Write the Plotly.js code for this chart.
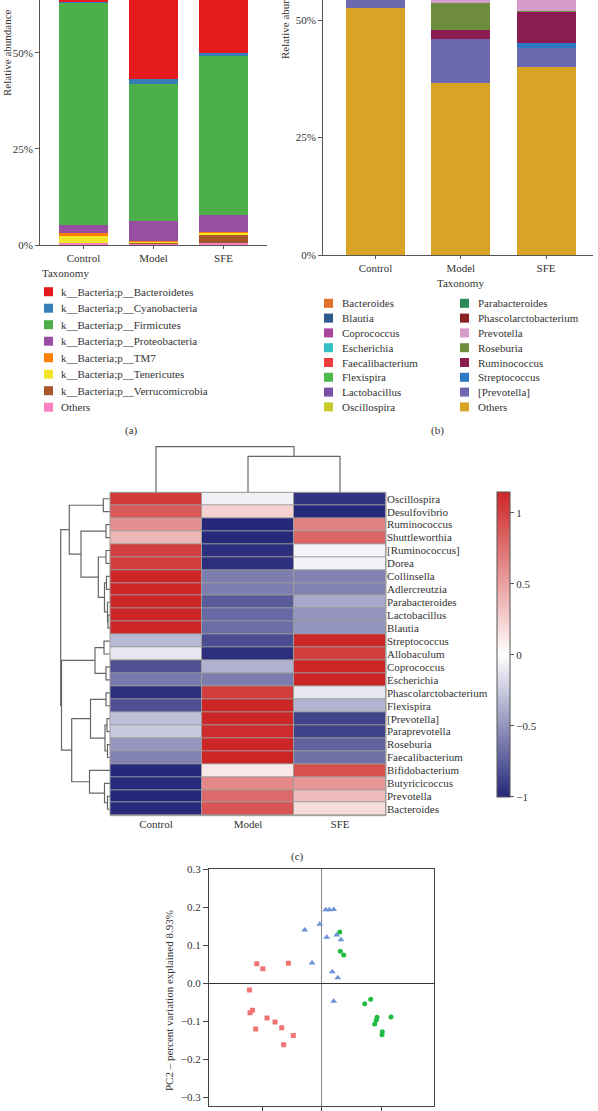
<!DOCTYPE html>
<html>
<head>
<meta charset="utf-8">
<script src="https://cdn.plot.ly/plotly-3.0.1.min.js"></script>
<style>html,body{margin:0;padding:0;background:#fff;}#chart{width:598px;height:1111px;}</style>
</head>
<body>
<div id="chart"></div>
<script>
// ---------------- DATA ----------------
const groups = ['Control', 'Model', 'SFE'];

// (a) phylum level, legend order
const phylaNames = ['k__Bacteria;p__Bacteroidetes','k__Bacteria;p__Cyanobacteria','k__Bacteria;p__Firmicutes',
  'k__Bacteria;p__Proteobacteria','k__Bacteria;p__TM7','k__Bacteria;p__Tenericutes','k__Bacteria;p__Verrucomicrobia','Others'];
const phylaColors = ['#e41a1c','#377eb8','#4daf4a','#984ea3','#ff7f00','#f2e52a','#a65628','#f781bf'];
const phylaValues = [
  [36.8, 55.0, 48.0],   // Bacteroidetes
  [0.2, 1.3, 0.7],      // Cyanobacteria
  [57.9, 35.7, 41.3],   // Firmicutes
  [1.9, 5.2, 4.5],      // Proteobacteria
  [0.9, 0.2, 0.3],      // TM7
  [1.7, 0.4, 0.45],     // Tenericutes
  [0.1, 0.1, 2.0],      // Verrucomicrobia
  [0.5, 0.3, 0.6]       // Others
];
const pctTicks = [0, 25, 50];
const pctLabels = ['0%', '25%', '50%'];

// (b) genus level, legend order
const genusNames = ['Bacteroides','Blautia','Coprococcus','Escherichia','Faecalibacterium','Flexispira','Lactobacillus','Oscillospira',
  'Parabacteroides','Phascolarctobacterium','Prevotella','Roseburia','Ruminococcus','Streptococcus','[Prevotella]','Others'];
const genusColors = ['#e0702a','#2d5b8c','#a8449c','#35c0c8','#f03c3c','#4cbb4c','#7b4fa8','#c8cc2a',
  '#2a8a5a','#8b2222','#d59bc9','#6d8c3c','#8a1c50','#2c78c4','#6d69b0','#d9a426'];
const genusValues = [
  [20.3, 29.3, 30.1],  // Bacteroides
  [3.0, 1.5, 1.5],     // Blautia
  [0.5, 1.0, 2.0],     // Coprococcus
  [0.2, 0.5, 1.5],     // Escherichia
  [0.5, 2.0, 1.0],     // Faecalibacterium
  [0.2, 1.5, 0.5],     // Flexispira
  [8.0, 3.0, 4.0],     // Lactobacillus
  [2.0, 1.0, 0.5],     // Oscillospira
  [1.0, 1.0, 1.0],     // Parabacteroides
  [1.5, 3.0, 2.0],     // Phascolarctobacterium
  [3.0, 2.5, 4.0],     // Prevotella
  [0.5, 5.7, 0.1],     // Roseburia
  [1.5, 2.0, 6.6],     // Ruminococcus
  [0.3, 0.1, 1.1],     // Streptococcus
  [4.5, 9.2, 4.0],     // [Prevotella]
  [52.5, 36.7, 40.1]   // Others
];

// (c) heatmap, rows top to bottom
const heatRows = ['Oscillospira','Desulfovibrio','Ruminococcus','Shuttleworthia','[Ruminococcus]','Dorea','Collinsella',
  'Adlercreutzia','Parabacteroides','Lactobacillus','Blautia','Streptococcus','Allobaculum','Coprococcus','Escherichia',
  'Phascolarctobacterium','Flexispira','[Prevotella]','Paraprevotella','Roseburia','Faecalibacterium','Bifidobacterium',
  'Butyricicoccus','Prevotella','Bacteroides'];
const heatZ = [
  [1.04, -0.07, -0.95],
  [0.885, 0.25, -1.0],
  [0.59, -1.0, 0.67],
  [0.38, -1.0, 0.81],
  [1.03, -0.97, -0.05],
  [1.03, -0.97, -0.05],
  [1.15, -0.6, -0.58],
  [1.15, -0.6, -0.58],
  [1.15, -0.76, -0.4],
  [1.15, -0.7, -0.5],
  [1.15, -0.68, -0.5],
  [-0.33, -0.83, 1.15],
  [-0.11, -0.97, 1.03],
  [-0.81, -0.36, 1.15],
  [-0.62, -0.6, 1.15],
  [-0.97, 1.03, -0.11],
  [-0.82, 1.15, -0.35],
  [-0.29, 1.15, -0.88],
  [-0.25, 1.12, -0.88],
  [-0.49, 1.15, -0.73],
  [-0.58, 1.15, -0.66],
  [-1.0, 0.12, 0.93],
  [-1.0, 0.63, 0.56],
  [-1.0, 0.79, 0.355],
  [-1.0, 0.906, 0.185]
];
const colorTicks = [-1, -0.5, 0, 0.5, 1];
// row dendrogram merges: [childA, childB, height]; leaves 0..24, new clusters numbered 25..
const rowMerges = [
  [0, 1, 6.7], [2, 3, 4], [4, 5, 4], [6, 7, 3.5], [9, 10, 2], [8, 29, 2.5], [28, 30, 5.5],
  [27, 31, 11.7], [26, 32, 29], [25, 33, 40.7],
  [11, 12, 6], [13, 14, 4], [35, 36, 15],
  [15, 16, 4], [17, 18, 3], [19, 20, 2.5], [39, 40, 5], [38, 41, 19.5],
  [23, 24, 2.5], [22, 43, 5.5], [21, 44, 20.5], [42, 45, 38.3],
  [37, 46, 48.5], [34, 47, 49.3]
];
// column dendrogram merges: leaves 0..2 (Control, Model, SFE)
const colMerges = [[1, 2, 36], [0, 3, 45.6]];

// (d) PCoA points
const ctrlPC1 = [-0.2185,-0.198,-0.112,-0.243,-0.241,-0.233,-0.222,-0.184,-0.157,-0.1345,-0.128,-0.0955];
const ctrlPC2 = [0.0517,0.0385,0.0528,-0.0177,-0.0776,-0.0713,-0.1206,-0.0916,-0.1021,-0.117,-0.162,-0.138];
const modelPC1 = [0.0134,0.0255,0.0403,-0.0067,-0.057,0.0168,0.0504,0.0649,-0.0326,0.0356,0.0538,0.0403];
const modelPC2 = [0.194,0.194,0.195,0.1557,0.1406,0.1214,0.1274,0.115,0.0536,0.0306,0.0148,-0.0475];
const sfePC1 = [0.0605,0.0625,0.074,0.1445,0.1647,0.1859,0.1835,0.178,0.2329,0.2037,0.2027];
const sfePC2 = [0.1354,0.0844,0.0747,-0.0538,-0.0422,-0.0897,-0.0976,-0.1074,-0.0889,-0.1277,-0.1356];
const pcaYTicks = [-0.3,-0.2,-0.1,0,0.1,0.2,0.3];
const pcaXTicks = [-0.2,0,0.2];

// ---------------- BUILD ----------------
const W = 598, H = 1111;
const fx = p => p / W;
const fy = p => 1 - p / H;
const FONT = '"Liberation Serif", "Times New Roman", serif';
const TXT = '#333';

const traces = [];
for (let i = phylaNames.length - 1; i >= 0; i--) {
  traces.push({type:'bar', x:groups, y:phylaValues[i], name:phylaNames[i], marker:{color:phylaColors[i], line:{width:0}},
    width:0.7, xaxis:'x', yaxis:'y', showlegend:false, hoverinfo:'name+y'});
}
for (let i = genusNames.length - 1; i >= 0; i--) {
  traces.push({type:'bar', x:groups, y:genusValues[i], name:genusNames[i], marker:{color:genusColors[i], line:{width:0}},
    width:0.69, xaxis:'x2', yaxis:'y2', showlegend:false, hoverinfo:'name+y'});
}
traces.push({type:'heatmap', x:groups, y:heatRows, z:heatZ, xaxis:'x3', yaxis:'y3', xgap:1, ygap:1,
  zmin:-1.0, zmax:1.15,
  colorscale:[[0,'#26287a'],[1.0/2.15,'#ffffff'],[1,'#cd2626']],
  colorbar:{x:fx(496.7), xanchor:'left', y:fy(491.7), yanchor:'top', lenmode:'pixels', len:305, thickness:13,
    thicknessmode:'pixels', xpad:0, ypad:0, outlinewidth:1, outlinecolor:'#555', ticks:'outside', ticklen:4,
    tickcolor:'#555', tickmode:'array', tickvals:colorTicks, tickfont:{family:FONT, size:11, color:TXT}}
});
function dendro(merges, n) {
  const pos = [], ht = [];
  for (let i = 0; i < n; i++) { pos[i] = i; ht[i] = 0; }
  const hs = [], ps = [];
  merges.forEach((m, k) => {
    const a = m[0], b = m[1], h = m[2], id = n + k;
    pos[id] = (pos[a] + pos[b]) / 2; ht[id] = h;
    hs.push(ht[a], h, h, ht[b], null);
    ps.push(pos[a], pos[a], pos[b], pos[b], null);
  });
  return {hs, ps};
}
const rd = dendro(rowMerges, heatRows.length);
traces.push({type:'scatter', mode:'lines', x:rd.hs, y:rd.ps, xaxis:'x4', yaxis:'y4', line:{color:'#666', width:1.2},
  hoverinfo:'skip', showlegend:false, cliponaxis:false});
const cd = dendro(colMerges, groups.length);
traces.push({type:'scatter', mode:'lines', x:cd.ps, y:cd.hs, xaxis:'x5', yaxis:'y5', line:{color:'#666', width:1.2},
  hoverinfo:'skip', showlegend:false, cliponaxis:false});
traces.push({type:'scatter', mode:'markers', x:ctrlPC1, y:ctrlPC2, name:'Control', xaxis:'x6', yaxis:'y6',
  marker:{symbol:'square', size:5, color:'#f07474'}, showlegend:false});
traces.push({type:'scatter', mode:'markers', x:modelPC1, y:modelPC2, name:'Model', xaxis:'x6', yaxis:'y6',
  marker:{symbol:'triangle-up', size:6, color:'#6b92d8'}, showlegend:false});
traces.push({type:'scatter', mode:'markers', x:sfePC1, y:sfePC2, name:'SFE', xaxis:'x6', yaxis:'y6',
  marker:{symbol:'circle', size:5, color:'#22bb44'}, showlegend:false});

const axBase = {showgrid:false, zeroline:false, tickfont:{family:FONT, size:11, color:TXT}, fixedrange:true};
const hidden = {visible:false, showgrid:false, zeroline:false, fixedrange:true};

const annotations = [];
const shapes = [];
function addText(text, x, y, opts) {
  annotations.push(Object.assign({text, x:fx(x), y:fy(y), xref:'paper', yref:'paper', showarrow:false,
    font:{family:FONT, size:11, color:TXT}, xanchor:'center', yanchor:'middle'}, opts || {}));
}
function addSwatch(x, y, w, h, color) {
  shapes.push({type:'rect', xref:'paper', yref:'paper', x0:fx(x), x1:fx(x + w), y0:fy(y + h / 2), y1:fy(y - h / 2),
    fillcolor:color, line:{width:0}});
}
addText('Relative abundance', 7, 53, {textangle:-90});
addText('Relative abundance', 285, 16, {textangle:-90});
addText('Taxonomy', 460, 283);
addText('Taxonomy', 40, 273, {xanchor:'left'});
phylaNames.forEach((n, i) => {
  const y = 291.7 + i * 16.5;
  addSwatch(44, y, 9, 9, phylaColors[i]);
  addText(n, 59, y, {xanchor:'left'});
});
genusNames.forEach((n, i) => {
  const col = i < 8 ? 0 : 1, row = i % 8;
  const y = 303.3 + row * 14.8;
  const sx = col === 0 ? 324 : 460;
  addSwatch(sx, y, 9, 9, genusColors[i]);
  addText(n, sx + 15.5, y, {xanchor:'left'});
});
addText('(a)', 131, 431);
addText('(b)', 437.5, 431);
addText('(c)', 297, 856);
addText('PC2 – percent variation explained 8.93%', 169, 1001, {textangle:-90});

shapes.push({type:'rect', xref:'x3 domain', yref:'y3 domain', x0:0, x1:1, y0:0, y1:1, fillcolor:'#9c9c9c',
  line:{width:0}, layer:'below'});
shapes.push({type:'rect', xref:'x3 domain', yref:'y3 domain', x0:0, x1:1, y0:0, y1:1, fillcolor:'rgba(0,0,0,0)',
  line:{width:1, color:'#9c9c9c'}});

const layout = {
  width:W, height:H, margin:{l:0, r:0, t:0, b:0}, paper_bgcolor:'#fff', plot_bgcolor:'rgba(0,0,0,0)',
  showlegend:false, barmode:'stack', font:{family:FONT, size:11, color:TXT},
  xaxis: Object.assign({}, axBase, {domain:[fx(40), fx(267)], range:[-0.62, 2.62], type:'category', anchor:'y',
    showline:true, linecolor:'#555', linewidth:1, ticks:'outside', ticklen:3, tickcolor:'#555'}),
  yaxis: Object.assign({}, axBase, {domain:[fy(245), 1], range:[0, 63.7], anchor:'x', tickmode:'array',
    tickvals:pctTicks, ticktext:pctLabels,
    showline:true, linecolor:'#555', linewidth:1, ticks:'outside', ticklen:4, tickcolor:'#555'}),
  xaxis2: Object.assign({}, axBase, {domain:[fx(323), fx(593)], range:[-0.615, 2.55], type:'category', anchor:'y2',
    showline:true, linecolor:'#555', linewidth:1, ticks:'outside', ticklen:3, tickcolor:'#555'}),
  yaxis2: Object.assign({}, axBase, {domain:[fy(255), 1], range:[0, 54.3], anchor:'x2', tickmode:'array',
    tickvals:pctTicks, ticktext:pctLabels,
    showline:true, linecolor:'#555', linewidth:1, ticks:'outside', ticklen:4, tickcolor:'#555'}),
  xaxis3: Object.assign({}, axBase, {domain:[fx(110), fx(386)], anchor:'y3', type:'category', ticks:'', showline:false}),
  yaxis3: Object.assign({}, axBase, {domain:[fy(815.7), fy(492.3)], anchor:'x3', type:'category', side:'right',
    autorange:'reversed', ticks:'', showline:false, tickmode:'array', tickvals:heatRows, ticktext:heatRows}),
  xaxis4: Object.assign({}, hidden, {domain:[fx(55), fx(110)], range:[55, 0], anchor:'y4'}),
  yaxis4: Object.assign({}, hidden, {domain:[fy(815.7), fy(492.3)], range:[24.5, -0.5], anchor:'x4'}),
  xaxis5: Object.assign({}, hidden, {domain:[fx(110), fx(386)], range:[-0.5, 2.5], anchor:'y5'}),
  yaxis5: Object.assign({}, hidden, {domain:[fy(492.3), fy(446)], range:[0, 46.3], anchor:'x5'}),
  xaxis6: Object.assign({}, axBase, {domain:[fx(209), fx(434.3)], range:[-0.379, 0.3785], anchor:'y6',
    tickmode:'array', tickvals:pcaXTicks, showticklabels:false, ticks:'outside', ticklen:5, tickcolor:'#444',
    showline:true, mirror:true, linecolor:'#444', linewidth:1, zeroline:true, zerolinecolor:'#888', zerolinewidth:1.5}),
  yaxis6: Object.assign({}, axBase, {domain:[fy(1106), fy(869)], range:[-0.3237, 0.3016], anchor:'x6',
    tickmode:'array', tickvals:pcaYTicks, tickformat:'.1f', ticks:'outside', ticklen:5, tickcolor:'#444',
    showline:true, mirror:true, linecolor:'#444', linewidth:1, zeroline:true, zerolinecolor:'#333', zerolinewidth:1}),
  annotations, shapes
};

Plotly.newPlot('chart', traces, layout, {staticPlot:true, displayModeBar:false});
</script>
</body>
</html>
